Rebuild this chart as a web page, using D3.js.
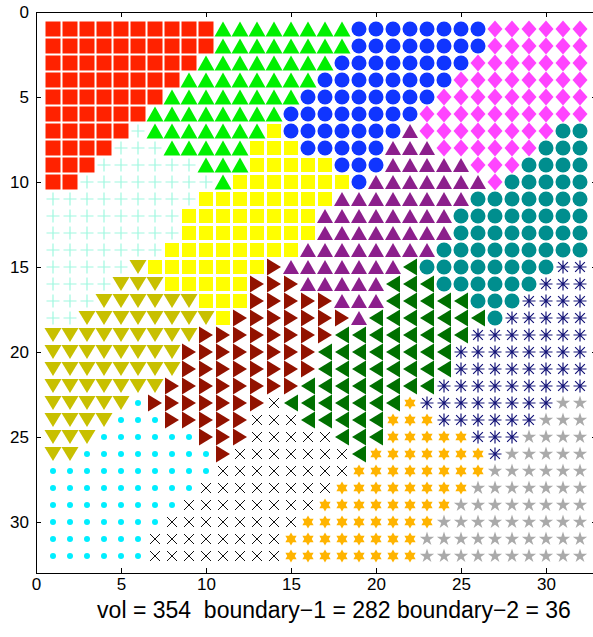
<!DOCTYPE html>
<html>
<head>
<meta charset="utf-8">
<style>
  body { margin: 0; background: #fff; }
  text { font-family: "Liberation Sans", Arial, sans-serif; }
</style>
</head>
<body>
<div id="container"></div>
<script src="https://cdn.jsdelivr.net/npm/d3@7"></script>
<script>

// region label of every cell, one string per row (row 1 at the top), one char per column
var gridRows = [
  "RRRRRRRRRRGGGGGGGGBBBBBBBBMMMMMM",
  "RRRRRRRRRRGGGGGGGGBBBBBBBBMMMMMM",
  "RRRRRRRRRGGGGGGGGBBBBBBBBMMMMMMM",
  "RRRRRRRRGGGGGGGGBBBBBBBBMMMMMMMM",
  "RRRRRRRGGGGGGGGBBBBBBBBMMMMMMMMM",
  "RRRRRRGGGGGGGGBBBBBBBBMMMMMMMMMM",
  "RRRRRAGGGGGGGYBBBBBBBPMMMMMMMMTT",
  "RRRRAAAGGGGGYYYBBBBBPPPMMMMMMTTT",
  "RRRAAAAAAGGGYYYYYBBBPPPPPMMMTTTT",
  "RRAAAAAAAAGYYYYYYYBPPPPPPPMTTTTT",
  "AAAAAAAAAYYYYYYYYPPPPPPPPTTTTTTT",
  "AAAAAAAAYYYYYYYYPPPPPPPPTTTTTTTT",
  "AAAAAAAAYYYYYYYYPPPPPPPPTTTTTTTT",
  "AAAAAAAYYYYYYYYPPPPPPPPTTTTTTTTT",
  "AAAAAOYYYYYYYDPPPPPPPLTTTTTTTTNN",
  "AAAAOOOYYYYYDDDPPPPPLLLTTTTTTNNN",
  "AAAOOOOOOYYYDDDDDPPPLLLLLTTTNNNN",
  "AAOOOOOOOOYDDDDDDDPLLLLLLLTNNNNN",
  "OOOOOOOOODDDDDDDDLLLLLLLLNNNNNNN",
  "OOOOOOOODDDDDDDDLLLLLLLLNNNNNNNN",
  "OOOOOOOODDDDDDDDLLLLLLLLNNNNNNNN",
  "OOOOOOODDDDDDDDLLLLLLLLNNNNNNNNN",
  "OOOOOCDDDDDDDXLLLLLLLHNNNNNNNNSS",
  "OOOOCCCDDDDDXXXLLLLLHHHNNNNNNSSS",
  "OOOCCCCCCDDDXXXXXLLLHHHHHNNNSSSS",
  "OOCCCCCCCCDXXXXXXXLHHHHHHHNSSSSS",
  "CCCCCCCCCCXXXXXXXXHHHHHHHHSSSSSS",
  "CCCCCCCCCXXXXXXXXHHHHHHHHSSSSSSS",
  "CCCCCCCCXXXXXXXXHHHHHHHHSSSSSSSS",
  "CCCCCCCXXXXXXXXHHHHHHHHSSSSSSSSS",
  "CCCCCCXXXXXXXXHHHHHHHHSSSSSSSSSS",
  "CCCCCCXXXXXXXXHHHHHHHHSSSSSSSSSS"
];

var xTicks = [0, 5, 10, 15, 20, 25, 30];
var yTicks = [0, 5, 10, 15, 20, 25, 30];
var axisDomain = [0, 33];
var titleText = "vol = 354  boundary\u22121 = 282 boundary\u22122 = 36";

// how each region is drawn
var markerStyle = {
  R: {shape: "square",   w: 15, h: 15, fill: "#ff2200"},
  G: {shape: "triUp",    w: 17, h: 15, fill: "#00f000"},
  B: {shape: "circle",   w: 15, h: 15, fill: "#1035ff"},
  M: {shape: "diamond",  w: 15, h: 17, fill: "#ff44ff"},
  T: {shape: "circle",   w: 15, h: 15, fill: "#008e8e"},
  P: {shape: "triUp",    w: 16, h: 14, fill: "#8c1f8c"},
  Y: {shape: "square",   w: 14, h: 14, fill: "#ffff00"},
  O: {shape: "triDown",  w: 17, h: 14, fill: "#c8c000"},
  D: {shape: "triRight", w: 14, h: 17, fill: "#921200"},
  L: {shape: "triLeft",  w: 14, h: 17, fill: "#007000"},
  N: {shape: "asterisk", w: 13, h: 13, stroke: "#141478", sw: 1.2},
  X: {shape: "cross",    w: 10, h: 10, stroke: "#111111", sw: 1},
  H: {shape: "hexagram", w: 13, h: 13, fill: "#ffb400"},
  S: {shape: "pentagram",w: 15, h: 15, fill: "#aaaaaa"},
  C: {shape: "circle",   w: 6,  h: 6,  fill: "#00eeff"},
  A: {shape: "plus",     w: 13, h: 13, stroke: "#a0f8e0", sw: 1.2}
};

var W = 593, H = 637;
var margin = {top: 12, left: 36};
var plotSize = 561;

var svg = d3.select("#container")
  .append("svg")
    .attr("width", W)
    .attr("height", H)
    .style("display", "block");

svg.append("rect").attr("width", W).attr("height", H).attr("fill", "#fff");

var x = d3.scaleLinear().domain(axisDomain).range([margin.left, margin.left + plotSize]);
var y = d3.scaleLinear().domain(axisDomain).range([margin.top, margin.top + plotSize]);

function starPath(n, R, r) {
  var pts = [];
  for (var i = 0; i < 2 * n; i++) {
    var a = -Math.PI / 2 + i * Math.PI / n;
    var rr = i % 2 === 0 ? R : r;
    pts.push([rr * Math.cos(a), rr * Math.sin(a)]);
  }
  return "M" + pts.map(function(p) { return p[0].toFixed(2) + "," + p[1].toFixed(2); }).join("L") + "Z";
}

function shapePath(st) {
  var w = st.w / 2, h = st.h / 2;
  switch (st.shape) {
    case "square":   return "M" + -w + "," + -h + "H" + w + "V" + h + "H" + -w + "Z";
    case "triUp":    return "M0," + -h + "L" + w + "," + h + "L" + -w + "," + h + "Z";
    case "triDown":  return "M0," + h + "L" + w + "," + -h + "L" + -w + "," + -h + "Z";
    case "triRight": return "M" + w + ",0L" + -w + "," + -h + "L" + -w + "," + h + "Z";
    case "triLeft":  return "M" + -w + ",0L" + w + "," + -h + "L" + w + "," + h + "Z";
    case "diamond":  return "M0," + -h + "L" + w + ",0L0," + h + "L" + -w + ",0Z";
    case "circle":   return "M" + w + ",0A" + w + "," + w + " 0 1,1 " + -w + ",0A" + w + "," + w + " 0 1,1 " + w + ",0Z";
    case "plus":     return "M" + -w + ",0H" + w + "M0," + -h + "V" + h;
    case "cross":    return "M" + -w + "," + -h + "L" + w + "," + h + "M" + -w + "," + h + "L" + w + "," + -h;
    case "asterisk":
      var d = w * 0.75;
      return "M" + -w + ",0H" + w + "M0," + -h + "V" + h +
             "M" + -d + "," + -d + "L" + d + "," + d + "M" + -d + "," + d + "L" + d + "," + -d;
    case "hexagram":  return starPath(6, w, w / Math.sqrt(3));
    case "pentagram": return starPath(5, w, w * 0.382);
  }
}

// flatten the grid into cells
var cells = [];
gridRows.forEach(function(row, r) {
  row.split("").forEach(function(code, c) {
    cells.push({col: c + 1, row: r + 1, code: code});
  });
});

svg.append("g")
  .selectAll("path")
  .data(cells)
  .enter()
  .append("path")
    .attr("transform", function(d) { return "translate(" + x(d.col) + "," + y(d.row) + ")"; })
    .attr("d", function(d) { return shapePath(markerStyle[d.code]); })
    .attr("fill", function(d) { return markerStyle[d.code].fill || "none"; })
    .attr("stroke", function(d) { return markerStyle[d.code].stroke || "none"; })
    .attr("stroke-width", function(d) { return markerStyle[d.code].sw || 0; });

// axes, MATLAB style: ticks pointing inward on all four sides
svg.append("g")
  .attr("transform", "translate(0," + (margin.top + plotSize) + ")")
  .call(d3.axisBottom(x).tickValues(xTicks).tickSizeInner(-5).tickSizeOuter(0).tickPadding(5));
svg.append("g")
  .attr("transform", "translate(" + margin.left + ",0)")
  .call(d3.axisLeft(y).tickValues(yTicks).tickSizeInner(-5).tickSizeOuter(0).tickPadding(7));
svg.append("g")
  .attr("transform", "translate(0," + margin.top + ")")
  .call(d3.axisTop(x).tickValues(xTicks).tickSizeInner(-5).tickSizeOuter(0).tickFormat(""));
svg.append("g")
  .attr("transform", "translate(" + (margin.left + plotSize) + ",0)")
  .call(d3.axisRight(y).tickValues(yTicks).tickSizeInner(-5).tickSizeOuter(0).tickFormat(""));

svg.selectAll(".domain").remove();
svg.selectAll(".tick line").attr("stroke", "#000");
svg.selectAll(".tick text")
  .attr("fill", "#000")
  .style("font-size", "17px")
  .style("font-family", "'Liberation Sans', Arial, sans-serif");

svg.append("rect")
  .attr("x", margin.left + 0.5)
  .attr("y", margin.top + 0.5)
  .attr("width", plotSize)
  .attr("height", plotSize)
  .attr("fill", "none")
  .attr("stroke", "#000")
  .attr("stroke-width", 1);

svg.append("text")
  .attr("x", 334)
  .attr("y", 618)
  .attr("text-anchor", "middle")
  .style("font-size", "23px")
  .style("white-space", "pre")
  .attr("fill", "#000")
  .text(titleText);

</script>
</body>
</html>
